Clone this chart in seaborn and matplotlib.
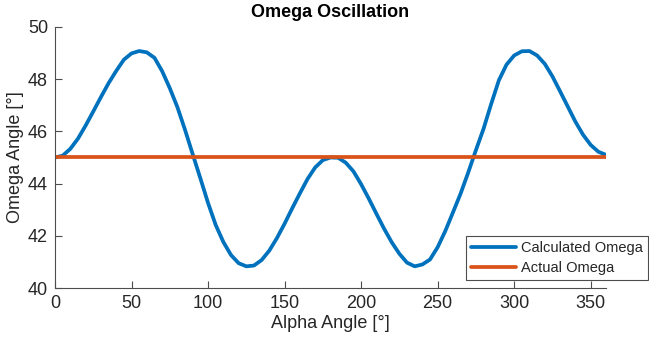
import matplotlib
matplotlib.use("Agg")
import matplotlib.pyplot as plt
import seaborn as sns
import pandas as pd

# Alpha angle samples [deg] and the calculated omega angle [deg]
alpha_deg = [0, 5, 10, 15, 20, 25, 30, 35, 40, 45, 50, 55, 60, 65, 70, 75, 80, 85,
             90, 95, 100, 105, 110, 115, 120, 125, 130, 135, 140, 145, 150, 155, 160,
             165, 170, 175, 180, 185, 190, 195, 200, 205, 210, 215, 220, 225, 230,
             235, 240, 245, 250, 255, 260, 265, 270, 275, 280, 285, 290, 295, 300,
             305, 310, 315, 320, 325, 330, 335, 340, 345, 350, 355, 360]
calculated_omega = [45.00, 45.07, 45.33, 45.72, 46.22, 46.76, 47.31, 47.84, 48.31,
                    48.74, 48.98, 49.07, 49.02, 48.81, 48.30, 47.65, 46.92, 46.05,
                    45.12, 44.20, 43.26, 42.42, 41.77, 41.27, 40.96, 40.84, 40.87,
                    41.08, 41.44, 41.92, 42.47, 43.06, 43.63, 44.18, 44.62, 44.90,
                    45.00, 44.99, 44.80, 44.47, 43.98, 43.43, 42.85, 42.28, 41.76,
                    41.32, 40.98, 40.84, 40.91, 41.10, 41.57, 42.19, 42.90, 43.62,
                    44.43, 45.28, 46.10, 47.05, 47.95, 48.55, 48.90, 49.06, 49.07,
                    48.90, 48.58, 48.10, 47.53, 46.95, 46.37, 45.87, 45.48, 45.22,
                    45.10]

# Actual omega is constant over the full range
actual_alpha = [0, 360]
actual_omega = [45.0, 45.0]

x_ticks = [0, 50, 100, 150, 200, 250, 300, 350]
y_ticks = [40, 42, 44, 46, 48, 50]

calc_df = pd.DataFrame({"alpha": alpha_deg, "omega": calculated_omega})
act_df = pd.DataFrame({"alpha": actual_alpha, "omega": actual_omega})

sns.set_style("ticks")
plt.rcParams["font.family"] = ["Liberation Sans", "DejaVu Sans"]

fig = plt.figure(figsize=(6.49, 3.45), dpi=100)
ax = fig.add_axes([55 / 649, 1 - 288.3 / 345, (606 - 55) / 649, (288.3 - 26.7) / 345])

blue = "#0072BD"
orange = "#D95319"
lw = 2.7
sns.lineplot(data=calc_df, x="alpha", y="omega", ax=ax, color=blue, linewidth=lw,
             label="Calculated Omega", estimator=None, sort=False)
sns.lineplot(data=act_df, x="alpha", y="omega", ax=ax, color=orange, linewidth=lw,
             label="Actual Omega", estimator=None, sort=False)

ax.set_xlim(0, 360)
ax.set_ylim(40, 50)
ax.set_xticks(x_ticks)
ax.set_yticks(y_ticks)

axis_grey = "#4d4d4d"
text_grey = "#262626"
for side in ["top", "right"]:
    ax.spines[side].set_visible(False)
for side in ["left", "bottom"]:
    ax.spines[side].set_color(axis_grey)
    ax.spines[side].set_linewidth(0.8)
ax.tick_params(direction="in", length=5, width=0.8, color=axis_grey,
               labelsize=13, labelcolor=text_grey, pad=5)

ax.set_xlabel("Alpha Angle [°]", fontsize=13, color=text_grey, labelpad=2)
ax.set_ylabel("Omega Angle [°]", fontsize=13, color=text_grey, labelpad=3)
ax.set_title("Omega Oscillation", fontsize=13, fontweight="bold", color="black", pad=7)

leg = ax.legend(loc="lower right", bbox_to_anchor=(648 / 649, 1 - 280 / 345),
                bbox_transform=fig.transFigure, fontsize=10.5, frameon=True,
                fancybox=False, framealpha=1, edgecolor=axis_grey,
                handlelength=3.1, handletextpad=0.35, borderpad=0.35,
                labelspacing=0.4, borderaxespad=0)
leg.get_frame().set_linewidth(0.8)
for line in leg.get_lines():
    line.set_linewidth(lw)
for t in leg.get_texts():
    t.set_color(text_grey)

fig.savefig("out.png", dpi=100)
